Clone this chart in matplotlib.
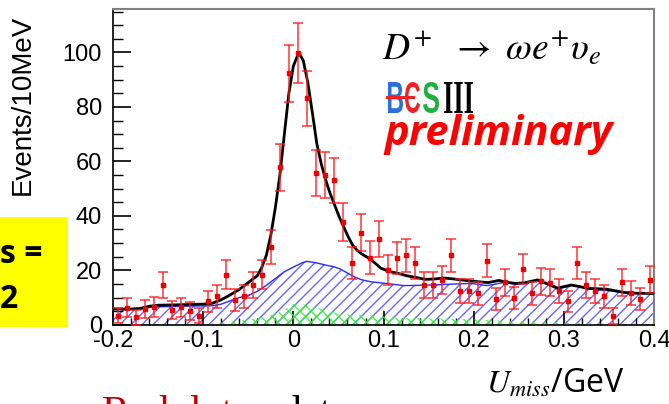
import numpy as np
import matplotlib
matplotlib.use('Agg')
import matplotlib.pyplot as plt
from matplotlib.ticker import MultipleLocator
from matplotlib.textpath import TextPath
from matplotlib.patches import PathPatch
from matplotlib.font_manager import FontProperties
from matplotlib.transforms import Affine2D, IdentityTransform

# U_miss spectrum, 10 MeV bins from -0.2 to 0.4 GeV
bin_lo = -0.2
bin_w = 0.01
counts = [3.3, 6.3, 2.7, 5.8, 6.6, 14.6, 5.4, 6.4, 5.2, 3.3,
          8.6, 10.4, 18.4, 9.2, 10.4, 14.6, 18.4, 28.5, 57.9, 92.3,
          99.7, 83.1, 55.7, 54.9, 53.0, 37.7, 22.7, 33.8, 24.6, 31.6,
          20.3, 24.4, 25.5, 22.6, 14.7, 14.6, 16.5, 25.5, 12.5, 12.5,
          11.5, 23.6, 9.6, 15.6, 9.8, 20.6, 11.5, 16.0, 15.5, 12.5,
          8.6, 22.6, 14.6, 12.4, 10.4, 3.2, 15.6, 11.7, 9.6, 16.6]
errors = [2.8, 3.5, 2.6, 3.4, 3.6, 4.8, 3.3, 3.5, 3.3, 2.8,
          3.9, 4.2, 5.3, 4.0, 4.2, 4.8, 5.3, 6.3, 8.6, 10.6,
          11.0, 10.1, 8.5, 8.4, 8.3, 7.1, 5.8, 6.8, 6.0, 6.6,
          5.5, 5.9, 6.0, 5.8, 4.8, 4.8, 5.1, 6.0, 4.5, 4.5,
          4.4, 5.9, 4.1, 4.9, 4.1, 5.5, 4.4, 5.0, 4.9, 4.5,
          3.9, 5.8, 4.8, 4.5, 4.2, 2.8, 4.9, 4.4, 4.1, 5.1]

# total fit
fit_x = [-0.2, -0.18, -0.17, -0.16, -0.15, -0.12, -0.10, -0.09, -0.08, -0.07,
         -0.06, -0.05, -0.045, -0.04, -0.035, -0.03, -0.025, -0.02, -0.015, -0.01,
         -0.005, 0.0, 0.006, 0.011, 0.016, 0.021, 0.026, 0.031, 0.036, 0.041,
         0.046, 0.051, 0.056, 0.061, 0.066, 0.071, 0.076, 0.086, 0.097, 0.106,
         0.116, 0.126, 0.136, 0.146, 0.156, 0.166, 0.176, 0.186, 0.196, 0.206,
         0.216, 0.228, 0.237, 0.246, 0.256, 0.264, 0.271, 0.282, 0.293, 0.308,
         0.318, 0.326, 0.347, 0.367, 0.38, 0.4]
fit_y = [5.8, 5.8, 6.0, 6.8, 7.2, 7.4, 7.6, 7.9, 9.2, 11.0,
         13.0, 15.5, 16.8, 18.0, 21.1, 25.5, 33.0, 43.0, 55.0, 70.0,
         85.0, 95.0, 100.0, 97.0, 89.0, 78.0, 66.5, 59.0, 53.0, 48.0,
         43.8, 39.5, 35.8, 32.2, 29.1, 27.3, 26.0, 24.0, 20.8, 19.6,
         18.9, 18.0, 17.4, 16.7, 16.8, 17.2, 16.9, 16.5, 16.1, 15.8,
         15.5, 16.3, 15.6, 15.2, 15.4, 16.0, 16.5, 15.0, 13.5, 14.6,
         14.0, 13.4, 13.1, 11.9, 11.6, 11.5]

# combinatorial background
bkg_x = [-0.2, -0.17, -0.16, -0.15, -0.11, -0.09, -0.08, -0.07, -0.06, -0.05,
         -0.04, -0.03, -0.02, -0.01, 0.0, 0.01, 0.015, 0.025, 0.035, 0.045,
         0.052, 0.06, 0.067, 0.075, 0.086, 0.1, 0.123, 0.14, 0.16, 0.18,
         0.197, 0.215, 0.234, 0.247, 0.26, 0.271, 0.282, 0.293, 0.31, 0.33,
         0.352, 0.371, 0.4]
bkg_y = [5.6, 5.8, 6.4, 6.6, 6.9, 7.0, 7.6, 8.8, 10.0, 10.8,
         12.3, 14.5, 17.0, 19.5, 21.2, 22.8, 23.3, 22.8, 22.0, 21.3,
         20.5, 19.0, 17.7, 16.6, 15.8, 15.3, 14.4, 14.5, 14.7, 15.0,
         15.2, 14.4, 15.6, 14.9, 15.4, 16.2, 14.8, 13.1, 14.6, 13.1,
         12.5, 11.5, 11.5]

# peaking background
pk_x = [-0.2, -0.1, -0.08, -0.06, -0.04, -0.02, -0.01, 0.0, 0.01, 0.02,
        0.03, 0.04, 0.05, 0.06, 0.08, 0.1, 0.12, 0.15, 0.18, 0.2,
        0.25, 0.3, 0.35, 0.4]
pk_y = [0.0, 0.3, 0.8, 1.5, 2.5, 4.0, 5.5, 7.6, 7.6, 7.0,
        6.0, 5.0, 4.2, 3.8, 3.6, 3.0, 2.5, 2.4, 2.2, 2.0,
        1.2, 0.8, 0.5, 0.3]

plt.rcParams['mathtext.fontset'] = 'stix'
plt.rcParams['hatch.linewidth'] = 1.0

W, H = 669, 404
fig = plt.figure(figsize=(W / 100, H / 100), dpi=100)
ax = fig.add_axes([0.169, 0.196, 0.8086, 0.782])

centers = bin_lo + bin_w * (np.arange(len(counts)) + 0.5)

ax.fill_between(bkg_x, 0, bkg_y, facecolor='none', edgecolor=(0.15, 0.15, 1.0, 0.7),
                hatch='///', linewidth=0, zorder=1)
ax.plot(bkg_x, bkg_y, color='#2a2aff', lw=1.0, zorder=2)
ax.fill_between(pk_x, 0, pk_y, facecolor='none', edgecolor=(0.2, 0.95, 0.2, 0.9),
                hatch='xxx', linewidth=0, zorder=2)
ax.plot(fit_x, fit_y, color='black', lw=2.0, zorder=4)
ax.errorbar(centers, counts, yerr=errors, fmt='s', ms=2.5, color='#ee0000',
            ecolor=(1.0, 0.1, 0.1, 0.75), elinewidth=1.3, capsize=3.5, capthick=1.3,
            zorder=5)

ax.set_xlim(-0.2, 0.4)
ax.set_ylim(0, 116)
ax.xaxis.set_major_locator(MultipleLocator(0.1))
ax.xaxis.set_minor_locator(MultipleLocator(0.02))
ax.yaxis.set_major_locator(MultipleLocator(20))
ax.yaxis.set_minor_locator(MultipleLocator(5))
ax.tick_params(which='both', direction='in', top=False, right=False, labelsize=17)
ax.tick_params(axis='y', which='major', length=13, width=1.2, pad=8)
ax.tick_params(axis='y', which='minor', length=7, width=1.0)
ax.tick_params(axis='x', which='major', length=10, width=1.2, pad=4)
ax.tick_params(axis='x', which='minor', length=5, width=1.0)
ax.set_xticks([-0.2, -0.1, 0, 0.1, 0.2, 0.3, 0.4])
ax.set_xticklabels(['-0.2', '-0.1', '0', '0.1', '0.2', '0.3', '0.4'])
for lab in ax.get_xticklabels() + ax.get_yticklabels():
    lab.set_family('Liberation Sans')
for side in ['top', 'right']:
    ax.spines[side].set_color('#808080')
    ax.spines[side].set_linewidth(1.5)
for side in ['left', 'bottom']:
    ax.spines[side].set_color('black')
    ax.spines[side].set_linewidth(1.2)

fig.text(0.034, 0.74, 'Events/10MeV', rotation=90, ha='center', va='center',
         fontsize=20, family='Liberation Sans')
fig.text(0.727, 0.027, r'$U_{miss}$/GeV', ha='left', va='baseline',
         fontsize=23, family='Open Sans')

# decay mode
fig.text(0.571, 0.851, r'$D^{+}\ \ \rightarrow\ \omega e^{+}\upsilon_{e}$',
         fontsize=27, ha='left', va='baseline')


def logo_letter(s, x0, y_top, w, h, color, family='Liberation Sans'):
    # squeeze one glyph into a w x h pixel box (y_top counted from the top)
    tp = TextPath((0, 0), s, size=1, prop=FontProperties(family=family, weight='bold'))
    ext = tp.get_extents()
    tr = (Affine2D().translate(-ext.x0, -ext.y0)
          .scale(w / ext.width, h / ext.height)
          .translate(x0, H - y_top - h))
    fig.add_artist(PathPatch(tr.transform_path(tp), facecolor=color, edgecolor='none',
                             transform=IdentityTransform()))


logo_letter('B', 388, 82, 15, 31, '#2a6fdc')
logo_letter('C', 405, 82, 15, 31, '#ee2222')
logo_letter('S', 423, 82, 16, 31, '#20b040')
logo_letter('III', 444, 82, 29, 31, 'black', family='Liberation Serif')
fig.add_artist(plt.Line2D([387, 413], [H - 97, H - 97], color='#ee2222', lw=2.2,
                          transform=IdentityTransform()))

fig.text(0.575, 0.642, 'preliminary', color='red', fontsize=30, fontweight='bold',
         fontstyle='italic', family='Open Sans', va='baseline')

# partial side annotations
fig.add_artist(plt.Rectangle((0, 0.19), 0.102, 0.273, facecolor='#ffff00',
                             edgecolor='none', transform=fig.transFigure, zorder=0))
fig.text(0.0, 0.349, 's =', fontsize=23, fontweight='bold', family='Open Sans',
         va='baseline', ha='left')
fig.text(0.0, 0.238, '2', fontsize=23, fontweight='bold', family='Open Sans',
         va='baseline', ha='left')
fig.text(0.152, -0.053, 'Red dots', color='#c00000', fontsize=30,
         family='Liberation Serif', va='baseline')
fig.text(0.42, -0.053, 'data', color='black', fontsize=30,
         family='Liberation Serif', va='baseline')

fig.savefig('out.png', dpi=100)
